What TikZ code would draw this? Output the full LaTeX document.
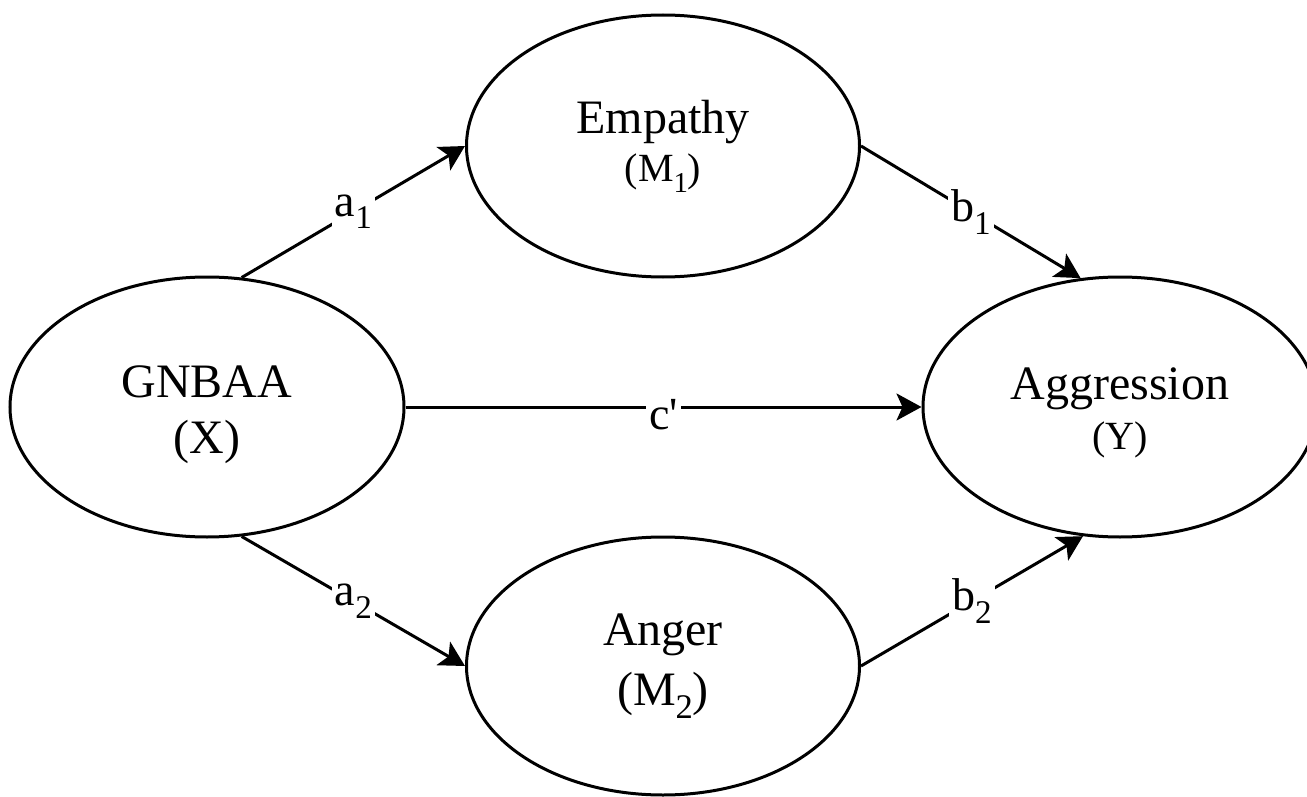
\documentclass[tikz,border=0pt]{standalone}
\usepackage{fontspec}
\setmainfont{Liberation Serif}
\usepackage{graphicx}
\usetikzlibrary{shapes.geometric,arrows.meta}
\newcommand{\lsub}[1]{\raisebox{-0.28em}{\scalebox{0.72}{#1}}}
\begin{document}
\begin{tikzpicture}[x=0.5pt,y=-0.5pt,
  latent/.style={ellipse,draw,line width=1.5pt,inner sep=0pt,align=center},
  pathline/.style={line width=1.5pt,-{Stealth[length=12.5pt,width=13.5pt,inset=3pt]}},
  coef/.style={fill=white,inner sep=1.5pt,font=\fontsize{23}{26}\selectfont}]
\useasboundingbox (0,0) rectangle (1307,797);
\node[latent,minimum width=197pt,minimum height=130pt,font=\fontsize{24}{28}\selectfont] (g) at (207,407) {\rule{0pt}{23.5pt}GNBAA\\(X)};
\node[latent,minimum width=196.5pt,minimum height=131pt,font=\fontsize{24}{24}\selectfont] (e) at (663,146) {Empathy\\{\fontsize{20}{24}\selectfont (M\lsub{1})}};
\node[latent,minimum width=196.5pt,minimum height=129pt,font=\fontsize{24}{30}\selectfont] (n) at (663,666) {Anger\\(M\lsub{2})};
\node[latent,minimum width=197pt,minimum height=130pt,font=\fontsize{24}{25}\selectfont] (y) at (1120,407) {\rule{0pt}{21.5pt}Aggression\\{\fontsize{20}{25}\selectfont (Y)}};
\draw[pathline] (g.75) -- node[coef] {a\lsub{1}} (e.west);
\draw[pathline] (g.-75) -- node[coef] {a\lsub{2}} (n.west);
\draw[pathline] (e.east) -- node[coef] {b\lsub{1}} (y.107);
\draw[pathline] (n.east) -- node[coef] {b\lsub{2}} (y.-106);
\draw[pathline] (g.east) -- node[coef,yshift=-4pt] {c\textquotesingle} (y.west);
\end{tikzpicture}
\end{document}
